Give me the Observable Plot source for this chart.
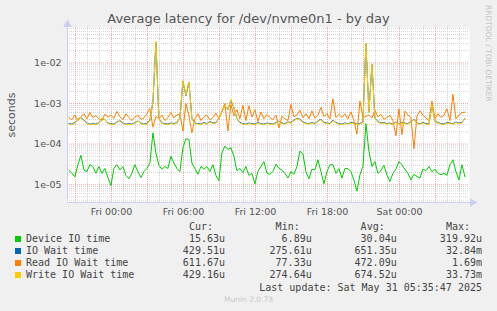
<!DOCTYPE html>
<html><head><meta charset="utf-8">
<script src="https://cdn.jsdelivr.net/npm/d3@7"></script>
<script src="https://cdn.jsdelivr.net/npm/@observablehq/plot@0.6"></script>
<style>
body{margin:0;background:#f0f0f0;width:497px;height:311px;overflow:hidden;position:relative;font-family:"DejaVu Sans",sans-serif;}
#title{position:absolute;left:0;width:497px;top:11px;text-align:center;font-size:13px;line-height:16px;color:#555;white-space:nowrap}
#chart{position:absolute;left:0;top:20px}
#ylab{position:absolute;left:11px;top:115px;transform:translate(-50%,-50%) rotate(-90deg);font-size:11px;color:#555;white-space:nowrap}
#rrd{position:absolute;left:484px;top:5px;writing-mode:vertical-rl;font-size:7.5px;color:#c4c4c4;white-space:nowrap}
#legend{position:absolute;left:0;top:221px;width:497px;font-family:"DejaVu Sans Mono",monospace;font-size:10px;line-height:12px;color:#444}
.row{position:absolute;left:0;height:12px;width:497px}
.sw{position:absolute;left:15px;top:3px;width:6px;height:6px}
.nm{position:absolute;left:26px;white-space:pre}
.col{position:absolute;white-space:pre;text-align:right}
#munin{position:absolute;left:0;width:497px;top:295px;text-align:center;font-size:7.5px;color:#c8c8c8}
</style></head>
<body>
<div id="title">Average latency for /dev/nvme0n1 - by day</div>
<div id="ylab">seconds</div>
<div id="rrd">RRDTOOL / TOBI OETIKER</div>
<div id="chart"></div>
<div id="legend"></div>
<div id="munin">Munin 2.0.73</div>
<script>
// time axis: hours relative to Fri 00:00, one sample every 15 minutes
const startHour = -3.55;
const stepHour = 0.25;

// values in microseconds
const deviceIO = [
 23,19,15.5,31,53,23,21,31,28,19,
 28,19,25,15,9.5,25,31,23,28,17,
 14,19,31,21,15,21,25,34,190,60,
 30,24,28,25,50,34,25,21,81,135,
 131,34,25,18,28,24,28,21,31,17,
 12.5,61,89,74,81,50,22,25,20,28,
 17,19,10.5,21,28,37,19,18,21,32,
 25,23,19,14.5,21,18,28,67,58,21,
 14,24,23,41,21,10.5,21,31,31,19,
 25,14.5,25,25,21,13,6.9,17.5,28,319.92,
 67,28,37,19,22,30,17.5,12,19,24,
 37,31,24,19,13,18,16,14.5,24,22,
 28,21,24,19,17.5,19,17,31,41,21,
 13,31,15.63];

const ioWait = [
 320,310,340,420,450,390,330,310,320,310,
 340,430,400,330,320,310,350,380,330,310,
 320,310,340,370,330,310,320,390,1050,32840,
 430,330,320,310,330,320,340,430,3600,1550,
 3300,430,330,320,310,340,320,360,330,340,
 430,630,880,720,1200,790,430,340,320,310,
 330,320,310,340,320,310,330,320,310,340,
 370,330,320,350,340,390,430,410,350,330,
 320,340,320,370,410,340,330,320,390,340,
 320,310,330,320,340,330,310,320,350,30500,
 610,9300,430,360,330,340,320,330,310,350,
 320,340,330,320,360,410,330,320,340,320,
 310,960,360,340,320,310,340,330,320,350,
 330,340,429.51];

const readWait = [
 450,400,520,380,470,560,420,600,450,500,
 420,380,550,460,520,430,640,470,400,560,
 450,380,470,520,410,440,560,750,260,480,
 420,520,380,450,600,440,520,560,210,1000,
 500,190,420,560,380,470,520,400,450,580,
 420,650,1000,210,950,500,700,420,900,380,
 880,460,700,360,620,420,540,450,400,520,
 250,480,420,380,950,470,520,680,450,560,
 420,660,430,520,800,480,560,420,1300,450,
 540,450,560,420,620,380,175,1150,450,480,
 520,440,680,470,540,410,450,510,380,160,
 740,170,650,520,450,77.33,480,660,520,440,
 380,1150,420,560,450,520,740,380,1690,420,
 520,600,611.67];

const writeWait = [
 310,300,330,420,460,380,320,300,310,300,
 330,440,400,320,310,300,340,380,320,300,
 310,300,330,370,320,300,310,380,1100,33730,
 420,320,310,300,320,310,330,420,3700,1600,
 3400,420,320,310,300,330,310,350,320,330,
 420,620,900,700,1250,800,420,330,310,300,
 320,310,300,330,310,300,320,310,300,330,
 360,320,310,340,330,380,420,400,340,320,
 310,330,310,360,400,330,320,310,380,330,
 310,300,320,310,330,320,300,310,340,31000,
 600,9500,420,350,320,330,310,320,300,340,
 310,330,320,310,350,400,320,310,330,310,
 300,950,350,330,310,300,330,320,310,340,
 320,330,429.16];

const seriesNames = ["Device IO time","IO Wait time","Read IO Wait time","Write IO Wait time"];
const seriesColors = ["#00CC00","#0066B3","#FF8000","#FFCC00"];
const curText = ["15.63u","429.51u","611.67u","429.16u"];
const minText = ["6.89u","275.61u","77.33u","274.64u"];
const avgText = ["30.04u","651.35u","472.09u","674.52u"];
const maxText = ["319.92u","32.84m","1.69m","33.73m"];

const xTickHours = [0,6,12,18,24];
const xTickLabels = ["Fri 00:00","Fri 06:00","Fri 12:00","Fri 18:00","Sat 00:00"];
const yDecades = [1e-5,1e-4,1e-3,1e-2];
const yTickLabels = ["1e-05","1e-04","1e-03","1e-02"];

const xDomain = [-3.667, 29.83];
const yDomain = [3.63e-6, 0.0748];

const allSeries = [deviceIO, ioWait, readWait, writeWait];
const toRows = vals => vals.map((v,i)=>({t: startHour + i*stepHour, v: v*1e-6}));

const hours = d3.range(Math.ceil(xDomain[0]), Math.floor(xDomain[1])+1);
const minorX = hours.filter(h => ((h%3)+3)%3 !== 0);
const majorX = hours.filter(h => ((h%3)+3)%3 === 0);
const minorY = [];
for (let e=-6; e<=-2; e++) for (let m=2; m<=9; m++) { const v = m*Math.pow(10,e); if (v>yDomain[0] && v<yDomain[1]) minorY.push(v); }

const axisColor = "#c8d0f4";
const chart = Plot.plot({
  width: 497, height: 200,
  marginLeft: 67, marginRight: 28, marginTop: 7, marginBottom: 18,
  x: {type:"linear", domain: xDomain},
  y: {type:"log", domain: yDomain},
  style: {background:"transparent", fontFamily:"DejaVu Sans", fontSize:"9.5px", color:"#555", overflow:"visible"},
  marks: [
    Plot.frame({fill:"white", stroke:"none"}),
    Plot.ruleX(minorX, {stroke:"#d2d2d2", strokeDasharray:"1,1"}),
    Plot.ruleY(minorY, {stroke:"#d2d2d2", strokeDasharray:"1,1"}),
    Plot.ruleX(majorX, {stroke:"#f0a8a8", strokeDasharray:"1,1"}),
    Plot.ruleY(yDecades, {stroke:"#f0a8a8", strokeDasharray:"1,1"}),
    ...allSeries.map((s,k)=>Plot.line(toRows(s), {x:"t", y:"v", stroke: seriesColors[k], strokeWidth:1})),
    Plot.ruleX([xDomain[0]], {stroke: axisColor, y1: yDomain[0], y2: yDomain[1], insetTop:-3}),
    Plot.ruleY([yDomain[0]], {stroke: axisColor, x1: xDomain[0], x2: xDomain[1], insetRight:-3}),
    Plot.dot([0], {x: ()=>xDomain[0], y: ()=>yDomain[1], dy:-3, symbol:"triangle", r:3.2, fill: axisColor, stroke:"none"}),
    Plot.dot([0], {x: ()=>xDomain[1], y: ()=>yDomain[0], dx:3, symbol:"triangle", rotate:90, r:3.2, fill: axisColor, stroke:"none"}),
    Plot.axisY({ticks: yDecades, tickFormat: d => yTickLabels[yDecades.indexOf(d)], tickSize:0, tickPadding:6, label:null, fill:"#555"}),
    Plot.axisX({ticks: xTickHours, tickFormat: d => xTickLabels[xTickHours.indexOf(d)], tickSize:0, tickPadding:6, label:null, fill:"#555"})
  ]
});
document.getElementById("chart").appendChild(chart);

// legend
const legend = document.getElementById("legend");
const colRight = [225, 311.7, 396.7, 482];
const headers = ["Cur:","Min:","Avg:","Max:"];
function addCol(row, text, right){
  const s = document.createElement("span"); s.className="col"; s.textContent=text;
  s.style.right = (497-right)+"px"; row.appendChild(s);
}
const hdr = document.createElement("div"); hdr.className="row"; hdr.style.top="0px";
headers.forEach((h,j)=>addCol(hdr, h, colRight[j]-12));
legend.appendChild(hdr);
seriesNames.forEach((n,k)=>{
  const r = document.createElement("div"); r.className="row"; r.style.top=(12*(k+1)+0.3)+"px";
  const sw = document.createElement("div"); sw.className="sw"; sw.style.background=seriesColors[k]; r.appendChild(sw);
  const nm = document.createElement("span"); nm.className="nm"; nm.textContent=n; r.appendChild(nm);
  [curText,minText,avgText,maxText].forEach((arr,j)=>addCol(r, arr[k], colRight[j]));
  legend.appendChild(r);
});
const lu = document.createElement("div"); lu.className="row"; lu.style.top="60.5px";
addCol(lu, "Last update: Sat May 31 05:35:47 2025", 482);
legend.appendChild(lu);
</script>
</body></html>
